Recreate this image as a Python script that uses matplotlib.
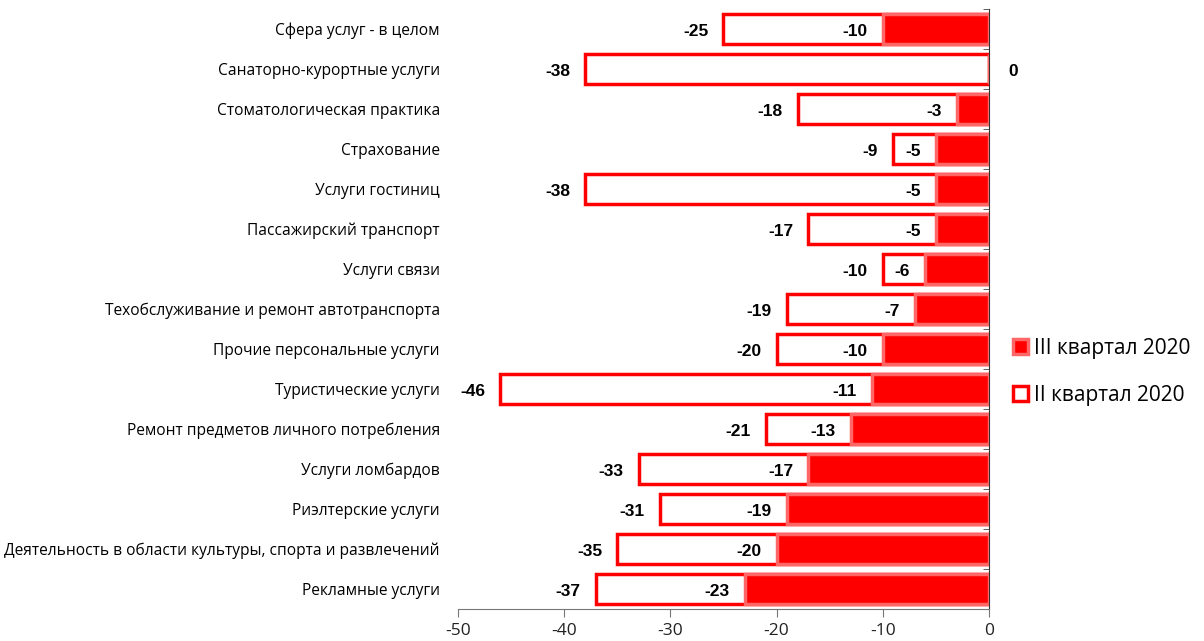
import matplotlib.pyplot as plt
import numpy as np

plt.rcParams['axes.unicode_minus'] = False

kategorie = [
    "Сфера услуг - в целом",
    "Санаторно-курортные услуги",
    "Стоматологическая практика",
    "Страхование",
    "Услуги гостиниц",
    "Пассажирский транспорт",
    "Услуги связи",
    "Техобслуживание и ремонт автотранспорта",
    "Прочие персональные услуги",
    "Туристические услуги",
    "Ремонт предметов личного потребления",
    "Услуги ломбардов",
    "Риэлтерские услуги",
    "Деятельность в области культуры, спорта и развлечений",
    "Рекламные услуги",
]
kw2 = [-25, -38, -18, -9, -38, -17, -10, -19, -20, -46, -21, -33, -31, -35, -37]
kw3 = [-10, 0, -3, -5, -5, -5, -6, -7, -10, -11, -13, -17, -19, -20, -23]

fig = plt.figure(figsize=(12.04, 6.41), dpi=100)
ax = fig.add_axes([0.3804, 0.05, 0.4410, 0.936])

y = np.arange(len(kategorie))
czcionka = ['Liberation Sans', 'DejaVu Sans']

ax.barh(y, kw2, height=0.75, color='white', edgecolor='#ff0000', linewidth=2.5,
        label='II квартал 2020', zorder=2)
ax.barh(y, kw3, height=0.75, color='#ff0000', edgecolor='#ff6666', linewidth=2.5,
        label='III квартал 2020', zorder=3)

for i in range(len(kategorie)):
    ax.annotate(f"{kw2[i]}", (kw2[i], y[i]), xytext=(-11, -1.5), textcoords='offset points',
                ha='right', va='center', fontsize=12.5, fontweight='bold',
                family=czcionka, zorder=4)
    if kw3[i] == 0:
        ax.annotate("0", (0, y[i]), xytext=(14, -1.5), textcoords='offset points',
                    ha='left', va='center', fontsize=12.5, fontweight='bold',
                    family=czcionka, zorder=4)
    else:
        ax.annotate(f"{kw3[i]}", (kw3[i], y[i]), xytext=(-11, -1.5), textcoords='offset points',
                    ha='right', va='center', fontsize=12.5, fontweight='bold',
                    family=czcionka, zorder=4)

ax.set_xlim(-50, 0)
ax.set_ylim(len(kategorie) - 0.5, -0.5)
ax.set_xticks(np.arange(-50, 1, 10))
ax.set_yticks(y)
ax.set_yticklabels(kategorie, fontsize=11.2, family='Open Sans')
ax.tick_params(axis='y', length=0, pad=13)
ax.tick_params(axis='x', labelsize=12.5, colors='#222222', length=6, color='#777777', pad=4)
for t in ax.get_xticklabels():
    t.set_family('Open Sans')

ax.set_yticks(np.arange(-0.5, len(kategorie), 1), minor=True)
ax.tick_params(axis='y', which='minor', length=4, color='#444444', direction='in',
               left=False, right=True)

for s in ['top', 'left']:
    ax.spines[s].set_visible(False)
ax.spines['bottom'].set_color('#777777')
ax.spines['right'].set_color('#333333')

uchwyty, etykiety = ax.get_legend_handles_labels()
ax.legend(uchwyty[::-1], etykiety[::-1], loc='center left', bbox_to_anchor=(1.01, 0.395),
          frameon=False, handlelength=0.7, handleheight=0.7,
          handletextpad=0.3, labelspacing=1.25, prop={'family': 'Open Sans', 'size': 15})

fig.savefig('out.png', dpi=100)
